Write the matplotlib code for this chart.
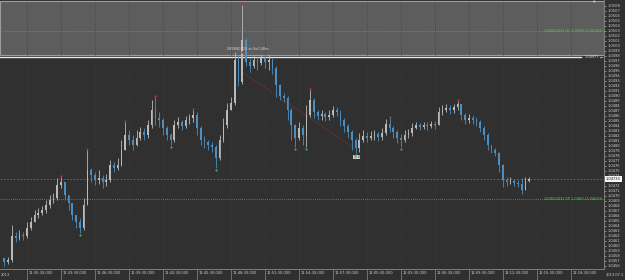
import numpy as np
import matplotlib
matplotlib.use("Agg")
import matplotlib.pyplot as plt
from matplotlib.patches import Rectangle
from matplotlib.transforms import ScaledTranslation, blended_transform_factory

# 20-second bars, prices stored as points above 1.04000 (1 point = 0.00001)
first_open = 575
close_pts = [567, 571, 619, 615, 621, 619, 635, 647, 661, 665,
             671, 681, 691, 695, 721, 727, 701, 685, 661, 647,
             635, 681, 751, 741, 731, 735, 727, 731, 761, 755,
             761, 791, 821, 811, 801, 815, 827, 821, 841, 871,
             855, 851, 835, 821, 811, 841, 847, 839, 851, 855,
             861, 835, 811, 807, 801, 797, 775, 811, 841, 871,
             885, 971, 927, 1011, 967, 959, 971, 965, 975, 967,
             971, 955, 921, 899, 895, 871, 841, 815, 835, 821,
             861, 891, 867, 859, 863, 857, 861, 871, 867, 851,
             839, 827, 811, 795, 811, 819, 815, 819, 823, 817,
             825, 843, 835, 827, 815, 811, 821, 825, 835, 841,
             837, 841, 839, 843, 841, 867, 871, 875, 871, 877,
             883, 861, 851, 855, 851, 847, 835, 821, 801, 791,
             785, 761, 731, 727, 729, 725, 723, 711, 729, 733]
high_pts = [575, 577, 641, 627, 631, 627, 647, 657, 671, 675,
            679, 691, 701, 705, 735, 737, 721, 701, 681, 661,
            655, 695, 791, 755, 747, 751, 741, 743, 771, 767,
            775, 811, 847, 831, 821, 831, 837, 835, 851, 891,
            897, 867, 855, 839, 825, 851, 857, 851, 859, 863,
            871, 867, 839, 819, 811, 807, 801, 821, 855, 885,
            897, 987, 981, 1081, 1015, 975, 979, 977, 981, 979,
            981, 975, 959, 923, 905, 899, 875, 843, 847, 841,
            881, 911, 895, 871, 871, 867, 871, 879, 877, 871,
            855, 843, 831, 815, 825, 831, 827, 829, 831, 827,
            835, 853, 855, 839, 831, 823, 831, 833, 845, 847,
            845, 847, 847, 849, 849, 877, 881, 883, 881, 883,
            889, 883, 865, 863, 861, 857, 851, 839, 825, 801,
            795, 787, 763, 737, 737, 733, 731, 735, 737, 737]
low_pts = [559, 563, 567, 607, 611, 611, 615, 631, 647, 655,
           661, 665, 675, 685, 691, 715, 691, 671, 651, 635,
           625, 631, 681, 727, 721, 723, 715, 719, 727, 747,
           751, 759, 791, 801, 791, 799, 811, 811, 815, 835,
           841, 837, 821, 811, 801, 807, 835, 831, 835, 843,
           847, 821, 801, 795, 791, 787, 755, 771, 807, 835,
           871, 881, 919, 923, 959, 947, 955, 951, 961, 955,
           951, 943, 897, 891, 887, 851, 811, 797, 811, 801,
           797, 857, 855, 851, 851, 849, 851, 857, 859, 839,
           827, 815, 791, 785, 787, 807, 807, 811, 811, 809,
           811, 821, 827, 815, 805, 797, 807, 815, 819, 833,
           831, 833, 831, 835, 833, 843, 861, 867, 863, 865,
           871, 851, 843, 845, 843, 839, 827, 811, 791, 785,
           779, 747, 717, 719, 723, 719, 717, 703, 719, 727]

# fractal markers (bar indices)
red_marks = [15, 22, 32, 40, 50, 63, 81, 102, 120]
green_marks = [20, 44, 56, 77, 80, 93, 105]

# time axis labels (minutes after 11:00)
tick_min = [30.5 + 3 * k for k in range(17)]
tick_lbl = ["11:30:30.000", "11:33:30.000", "11:36:30.000", "11:39:30.000",
            "11:42:30.000", "11:45:30.000", "11:48:30.000", "11:51:30.000",
            "11:54:30.000", "11:57:30.000", "12:00:30.000", "12:03:30.000",
            "12:06:30.000", "12:09:30.000", "12:12:30.000", "12:15:30.000",
            "12:18:30.000"]

price_ticks = [round(1.0456 + 0.0001 * k, 4) for k in range(53)]

sl_price = 1.05029
tp_price = 1.04693
entry_price = 1.04977
box_low = 1.04981
last_price = 1.04733
trade_t = [49.48, 59.63]
trade_p = [1.04947, 1.04791]
trade_mark = (49.48, 1.04987)

BG = "#303030"
UP = "#b9b9b9"
DOWN = "#4a8ec2"

c = 1.04 + np.array(close_pts) / 1e5
h = 1.04 + np.array(high_pts) / 1e5
lo = 1.04 + np.array(low_pts) / 1e5
o = 1.04 + np.array([first_open] + close_pts[:-1]) / 1e5
t = 28.5 + np.arange(len(c)) / 3.0
h = np.maximum(h, np.maximum(o, c))
lo = np.minimum(lo, np.minimum(o, c))

fig = plt.figure(figsize=(6.25, 2.8), dpi=100, facecolor=BG)
ax = fig.add_axes([0, 11 / 280, 604 / 625, 269 / 280])
ax.set_facecolor(BG)
ax.set_xlim(28.117, 81.43)
ax.set_ylim(1.04553, 1.05091)

blend = blended_transform_factory(ax.transAxes, ax.transData)

# position box
ax.add_patch(Rectangle((0, box_low), 1, 1.05089 - box_low, transform=blend,
                       facecolor="#5d5d5d", edgecolor="#9c9c9c", lw=0.8, zorder=1))
ax.grid(axis="x", color="#3e3e3e", ls=":", lw=0.5, zorder=0)

ax.plot([0, 1], [sl_price] * 2, transform=blend, color="#4caf4c", lw=0.6,
        ls=(0, (1, 1.5)), zorder=2)
ax.plot([0, 1], [tp_price] * 2, transform=blend, color="#4caf4c", lw=0.6,
        ls=(0, (1, 1.5)), zorder=2)
ax.plot([0, 1], [last_price] * 2, transform=blend, color="#6c6c6c", lw=0.6,
        ls=(0, (2, 2)), zorder=2)
ax.plot([0, 0.962], [entry_price] * 2, transform=blend, color="#e6e6e6", lw=1.0, zorder=2)

cols = [UP if cc >= oo else DOWN for oo, cc in zip(o, c)]
ax.vlines(t, lo, h, colors=cols, lw=0.6, zorder=3)
ax.bar(t, np.maximum(np.abs(c - o), 0.000008), bottom=np.minimum(o, c),
       width=0.15, color=cols, linewidth=0, zorder=3)

ax.scatter(t[red_marks], h[red_marks] + 0.00003, s=2.5, color="#c03434", zorder=4, linewidths=0)
ax.scatter(t[green_marks], lo[green_marks] - 0.00003, s=2.5, color="#3fb53f", zorder=4, linewidths=0)

ax.plot(trade_t, trade_p, color="#a83232", lw=0.6, ls=(0, (1, 1.5)), zorder=2)
ax.scatter([trade_mark[0]], [trade_mark[1]], s=3, color="#c03434", zorder=4, linewidths=0)
ax.text(48.15, 1.04993, "285680023 at Sell 40m", fontsize=2.5, color="#dcdcdc",
        va="center", zorder=5)
ax.text(t[93] - 0.2, lo[93] - 0.00008, "13.0", fontsize=2.2, color="#222222", va="center",
        bbox=dict(boxstyle="square,pad=0.15", fc="#cfcfcf", ec="none"), zorder=5)

ax.text(0.998, sl_price, "102602432 SL 1.0503 (1.05029)", transform=blend, fontsize=2.6,
        color="#4cd04c", ha="right", va="center", zorder=5)
ax.text(0.998, tp_price, "102602432 TP 1.0469 (1.04693)", transform=blend, fontsize=2.6,
        color="#4cd04c", ha="right", va="center", zorder=5)
ax.text(0.968, entry_price, "1.04977", transform=blend, fontsize=2.5, color="#e6e6e6",
        va="center", zorder=5)
ax.text(0.993, entry_price, "\u2190", transform=blend, fontsize=3, color="#e6e6e6",
        va="center", zorder=5)
ax.text(0.982, 1.05088, "+", transform=blend, fontsize=3.5, color="#f0f0f0",
        va="center", ha="center", zorder=5)

# right price scale (the level under the last-price box is covered by it)
ax.yaxis.tick_right()
ax.set_yticks(price_ticks)
ax.set_yticklabels(["" if abs(p - 1.0473) < 1e-6 else "%.4f" % p for p in price_ticks])
ax.tick_params(axis="y", direction="out", length=1.5, width=0.4, colors="#cfcfcf",
               labelsize=2.6, pad=1)
ax.annotate("1.04733", xy=(1.0, last_price), xycoords=blend, xytext=(1.5, 0),
            textcoords="offset points", fontsize=2.6, color="#111111", va="center",
            annotation_clip=False,
            bbox=dict(boxstyle="square,pad=0.2", fc="#f4f4f4", ec="none"), zorder=6)

# bottom time scale
ax.set_xticks(tick_min)
ax.set_xticklabels(tick_lbl)
ax.tick_params(axis="x", direction="out", length=8, width=0.5, color="#8a8a8a",
               labelcolor="#cfcfcf", labelsize=2.6, pad=-6.5)
off = ScaledTranslation(1.5 / 100, 0, fig.dpi_scale_trans)
for lab in ax.get_xticklabels():
    lab.set_ha("left")
    lab.set_transform(lab.get_transform() + off)
fig.text(1 / 625, 5.5 / 280, "2013", fontsize=2.6, color="#cfcfcf", va="center")
fig.text(606 / 625, 5.5 / 280, "2013.07.1", fontsize=2.6, color="#cfcfcf", va="center")

for s in ["top", "left"]:
    ax.spines[s].set_visible(False)
for s in ["bottom", "right"]:
    ax.spines[s].set_color("#8a8a8a")
    ax.spines[s].set_linewidth(0.6)

fig.savefig("out.png", dpi=100, facecolor=BG)
